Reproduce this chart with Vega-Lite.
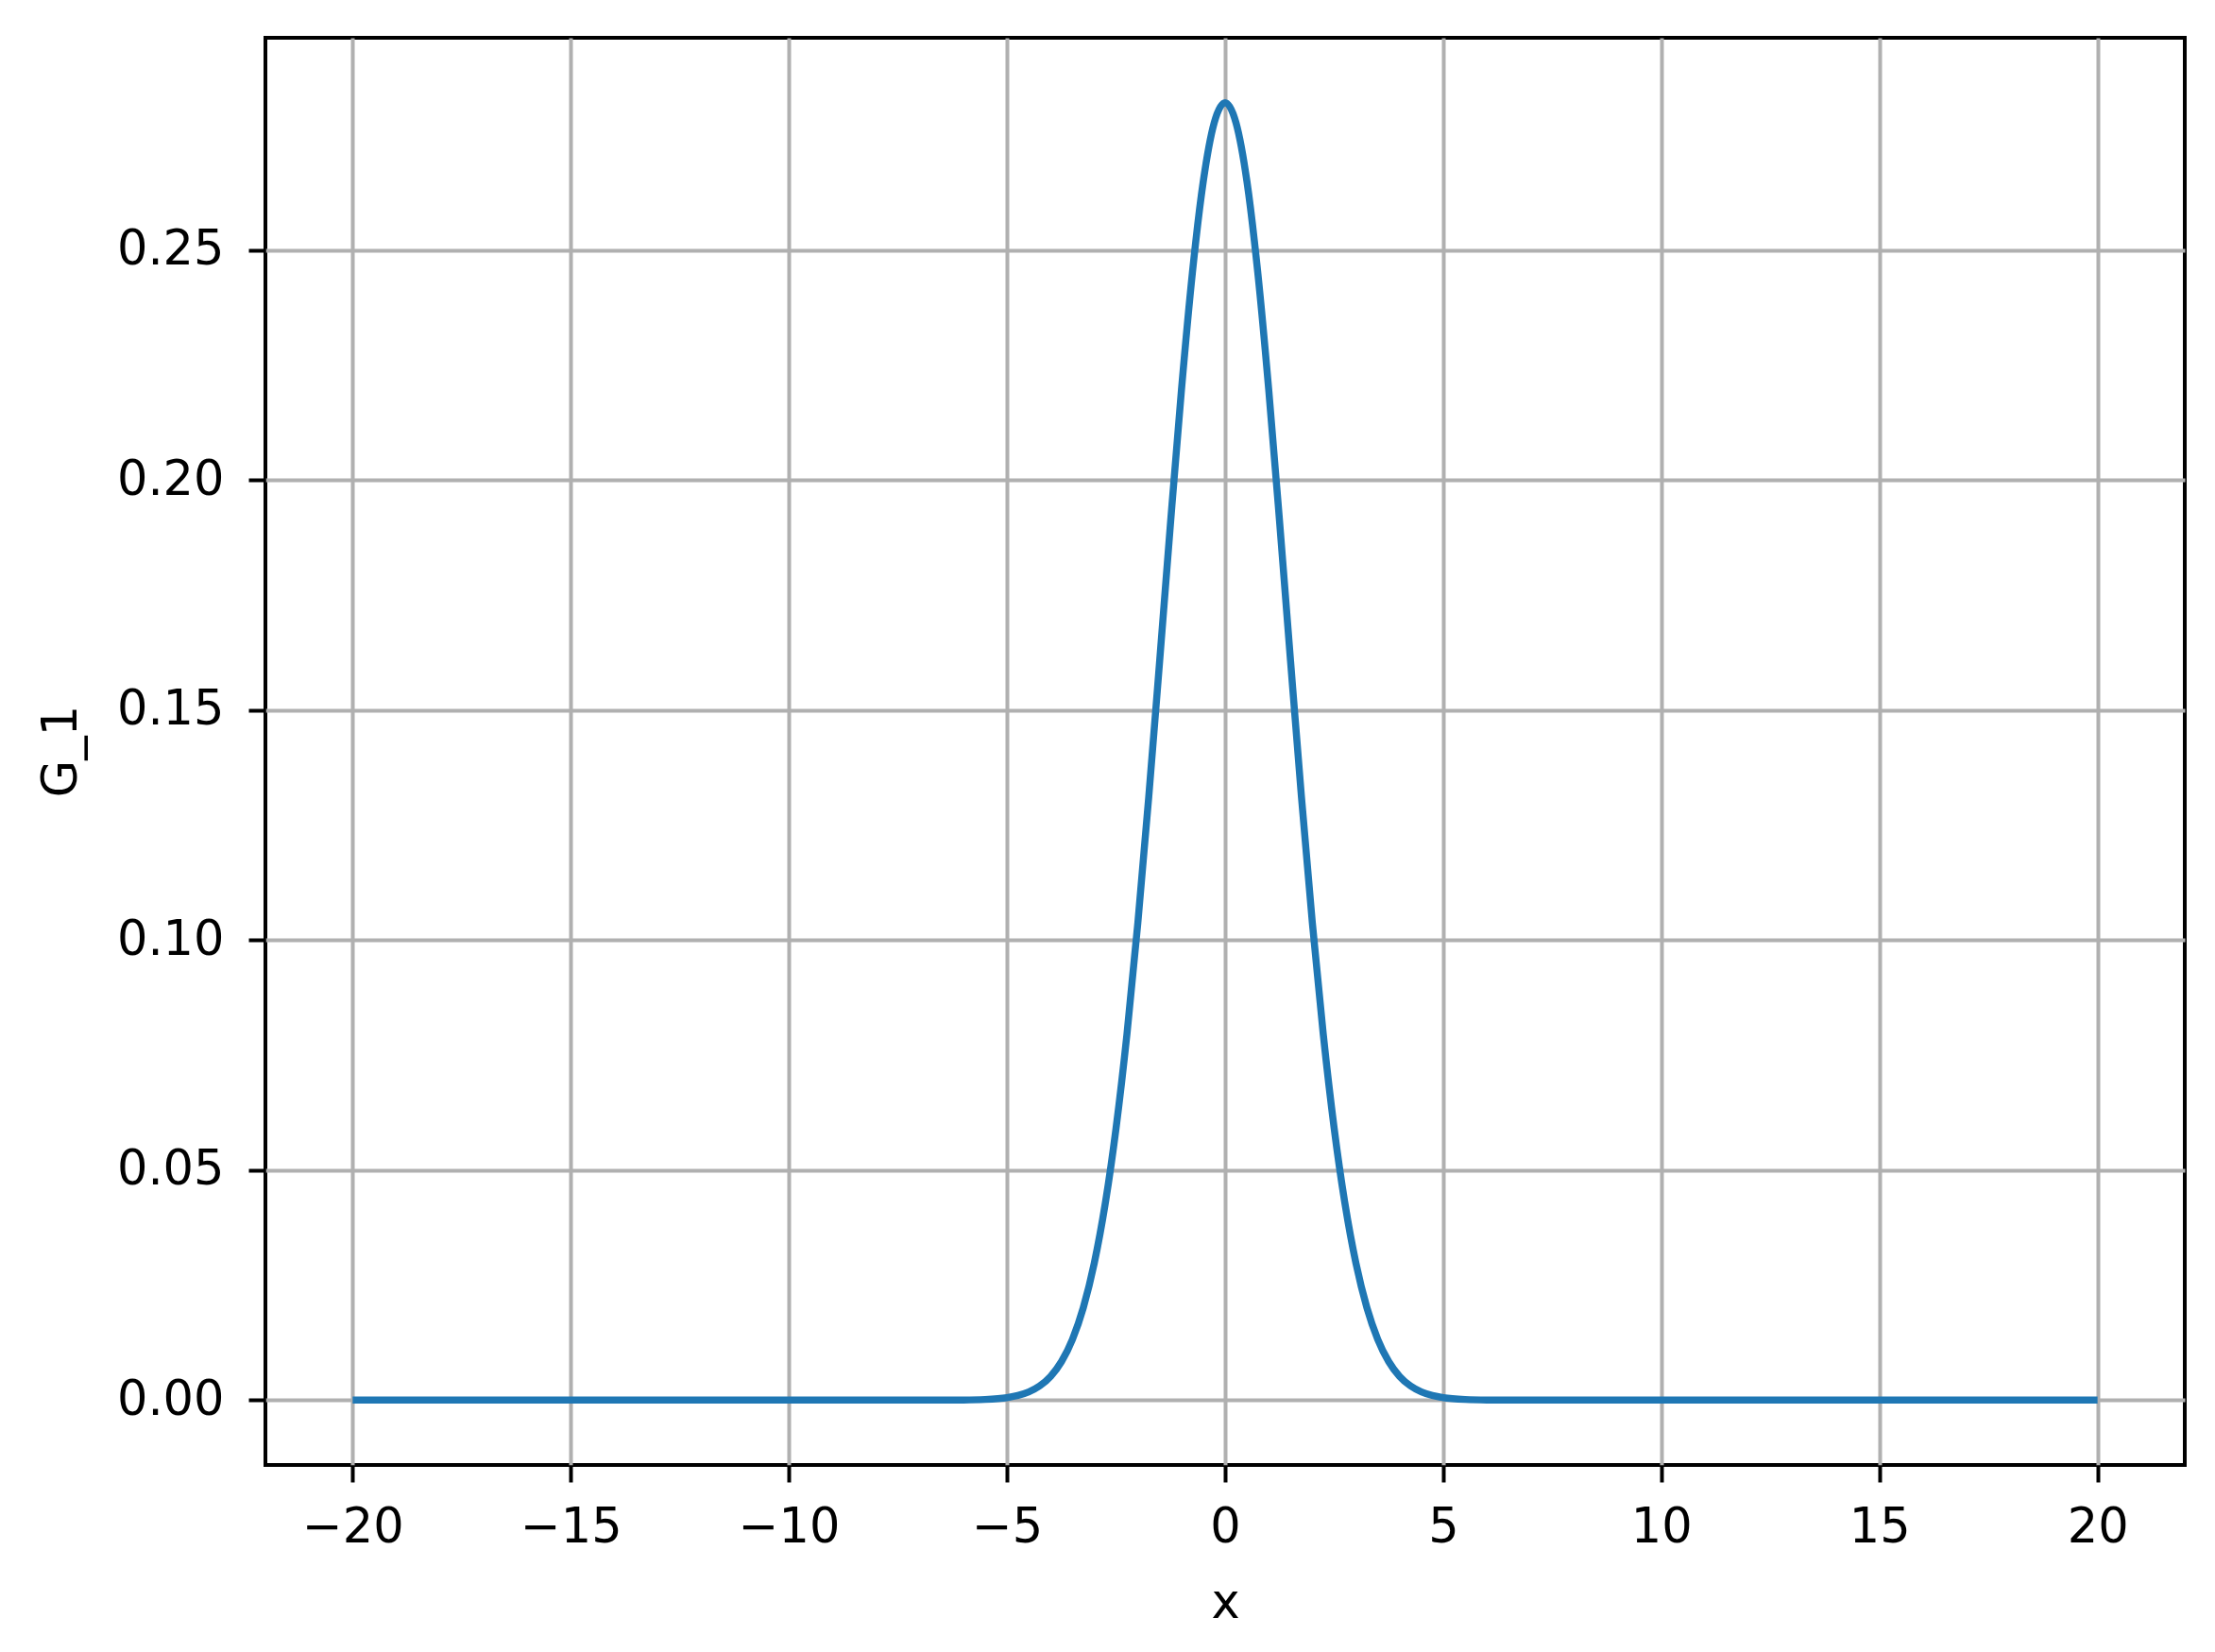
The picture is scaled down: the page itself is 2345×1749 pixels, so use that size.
{
  "$schema": "https://vega.github.io/schema/vega-lite/v6.json",
  "width": 2032,
  "height": 1511,
  "autosize": {"type": "none"},
  "padding": {"left": 281, "top": 40, "right": 32, "bottom": 198},
  "background": "white",
  "config": {
    "view": {"stroke": "black", "strokeWidth": 4},
    "axis": {
      "domain": false,
      "grid": true,
      "gridColor": "#b0b0b0",
      "gridWidth": 4,
      "gridOpacity": 1,
      "tickColor": "black",
      "tickWidth": 4,
      "tickSize": 18,
      "labelFont": "DejaVu Sans",
      "labelFontSize": 51,
      "labelColor": "black",
      "titleFont": "DejaVu Sans",
      "titleFontSize": 51,
      "titleFontWeight": "normal",
      "titleColor": "black",
      "labelFlush": false,
      "labelOverlap": false
    }
  },
  "data": {
    "values": [
      {"x": -20, "G_1": 0},
      {"x": -15, "G_1": 0},
      {"x": -10, "G_1": 0},
      {"x": -8, "G_1": 0},
      {"x": -7, "G_1": 0.0000014},
      {"x": -6, "G_1": 0.0000348},
      {"x": -5.5, "G_1": 0.000147},
      {"x": -5, "G_1": 0.000545},
      {"x": -4.75, "G_1": 0.001002},
      {"x": -4.5, "G_1": 0.001786},
      {"x": -4.25, "G_1": 0.003085},
      {"x": -4, "G_1": 0.005167},
      {"x": -3.75, "G_1": 0.008386},
      {"x": -3.5, "G_1": 0.013194},
      {"x": -3.25, "G_1": 0.020118},
      {"x": -3, "G_1": 0.029733},
      {"x": -2.75, "G_1": 0.04259},
      {"x": -2.5, "G_1": 0.05913},
      {"x": -2.25, "G_1": 0.079568},
      {"x": -2, "G_1": 0.103777},
      {"x": -1.75, "G_1": 0.131186},
      {"x": -1.5, "G_1": 0.160733},
      {"x": -1.25, "G_1": 0.190875},
      {"x": -1, "G_1": 0.219696},
      {"x": -0.75, "G_1": 0.245089},
      {"x": -0.5, "G_1": 0.265004},
      {"x": -0.25, "G_1": 0.277722},
      {"x": 0, "G_1": 0.282095},
      {"x": 0.25, "G_1": 0.277722},
      {"x": 0.5, "G_1": 0.265004},
      {"x": 0.75, "G_1": 0.245089},
      {"x": 1, "G_1": 0.219696},
      {"x": 1.25, "G_1": 0.190875},
      {"x": 1.5, "G_1": 0.160733},
      {"x": 1.75, "G_1": 0.131186},
      {"x": 2, "G_1": 0.103777},
      {"x": 2.25, "G_1": 0.079568},
      {"x": 2.5, "G_1": 0.05913},
      {"x": 2.75, "G_1": 0.04259},
      {"x": 3, "G_1": 0.029733},
      {"x": 3.25, "G_1": 0.020118},
      {"x": 3.5, "G_1": 0.013194},
      {"x": 3.75, "G_1": 0.008386},
      {"x": 4, "G_1": 0.005167},
      {"x": 4.25, "G_1": 0.003085},
      {"x": 4.5, "G_1": 0.001786},
      {"x": 4.75, "G_1": 0.001002},
      {"x": 5, "G_1": 0.000545},
      {"x": 5.5, "G_1": 0.000147},
      {"x": 6, "G_1": 0.0000348},
      {"x": 7, "G_1": 0.0000014},
      {"x": 8, "G_1": 0},
      {"x": 10, "G_1": 0},
      {"x": 15, "G_1": 0},
      {"x": 20, "G_1": 0}
    ]
  },
  "mark": {"type": "line", "color": "#1f77b4", "strokeWidth": 7.5, "interpolate": "monotone", "strokeCap": "butt"},
  "encoding": {
    "x": {
      "field": "x",
      "type": "quantitative",
      "scale": {"domain": [-22, 22], "nice": false, "zero": false},
      "axis": {
        "title": "x",
        "values": [-20, -15, -10, -5, 0, 5, 10, 15, 20],
        "format": "d",
        "labelPadding": 23,
        "titleBaseline": "alphabetic",
        "titleAnchor": "middle",
        "titleX": 1016,
        "titleY": 161
      }
    },
    "y": {
      "field": "G_1",
      "type": "quantitative",
      "scale": {"domain": [-0.0141, 0.2962], "nice": false, "zero": false},
      "axis": {
        "title": "G_1",
        "values": [0, 0.05, 0.1, 0.15, 0.2, 0.25],
        "format": ".2f",
        "labelPadding": 26,
        "titleAngle": 270,
        "titleBaseline": "alphabetic",
        "titleAlign": "center",
        "titleX": -201,
        "titleY": 755
      }
    }
  }
}
